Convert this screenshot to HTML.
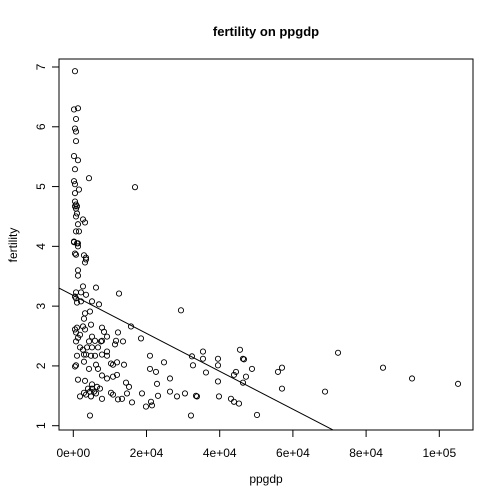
<!DOCTYPE html>
<html><head><meta charset="utf-8"><style>
html,body{margin:0;padding:0;background:#fff;}
svg{display:block;font-family:"Liberation Sans",Arial,sans-serif;}
</style></head><body>
<svg id="chart" width="504" height="504" viewBox="0 0 504 504">
<defs><clipPath id="pc"><rect x="59" y="59" width="414" height="371"/></clipPath></defs>
<rect width="504" height="504" fill="#fff"/>
<text x="266" y="36" text-anchor="middle" font-size="13" font-weight="bold">fertility on ppgdp</text>
<text x="266" y="483" text-anchor="middle" font-size="12">ppgdp</text>
<text x="17" y="245" text-anchor="middle" font-size="12" transform="rotate(-90 17 245)">fertility</text>
<rect x="59" y="59" width="414" height="371" fill="none" stroke="#000" stroke-width="1"/>
<g id="xaxis"></g>
<g id="yaxis"></g>
<g id="points"></g>
<g id="fit" clip-path="url(#pc)"></g>
</svg>
<script>
const xTicks = [0, 20000, 40000, 60000, 80000, 100000];
const xTickLabels = ["0e+00", "2e+04", "4e+04", "6e+04", "8e+04", "1e+05"];
const yTicks = [1, 2, 3, 4, 5, 6, 7];
const yTickLabels = ["1", "2", "3", "4", "5", "6", "7"];
const ppgdp = [460,190,1280,740,460,740,740,190,1280,460,4290,190,460,16860,1550,460,460,740,460,1010,740,1010,740,2650,3200,1280,740,1550,190,1010,
190,1280,1280,460,740,2920,3470,3470,3200,1280,1280,2650,6200,12490,740,2100,3470,460,740,2100,1010,5110,7020,29420,3200,4560,2920,15760,460,1010,740,1830,2650,3200,4840,1280,7840,8390,12210,9210,18500,5110,4290,5930,7840,7570,11670,13580,11390,740,1830,2650,3740,5110,6750,1010,2920,3470,4840,5930,7840,9210,9210,20950,740,460,2920,4290,6200,6750,10300,10850,11940,13850,20950,22590,24780,1280,3200,5110,7840,9210,10850,11940,14400,15220,22870,26420,4020,4560,5110,5660,6470,7290,6200,4840,2920,3470,1830,10300,10850,12210,13300,14670,16040,18770,19860,21230,21500,23140,26420,28330,30510,33520,4560,32150,7840,
32420,35430,35430,32700,36250,39530,39530,39530,45540,46360,46630,44450,43900,47180,46360,48820,55920,57020,57020,72330,84620,92550,105120,68780,33790,39800,43080,43900,45270,50190];
const fertility = [6.93,6.29,6.31,6.13,5.97,5.92,5.76,5.51,5.44,5.29,5.14,5.09,5.04,4.99,4.95,4.89,4.75,4.70,4.67,4.67,4.63,4.55,4.50,4.45,4.40,4.37,4.25,4.25,4.08,4.05,
4.07,4.05,4.00,3.88,3.86,3.85,3.81,3.78,3.73,3.60,3.51,3.33,3.31,3.21,3.23,3.23,3.19,3.16,3.13,3.08,3.06,3.08,3.03,2.93,2.88,2.91,2.79,2.66,2.61,2.64,2.56,2.52,2.66,2.61,2.69,2.47,2.64,2.57,2.56,2.49,2.46,2.49,2.41,2.42,2.42,2.41,2.42,2.41,2.36,2.41,2.31,2.27,2.31,2.31,2.31,2.17,2.19,2.19,2.17,2.17,2.19,2.17,2.24,2.17,2.01,1.99,2.07,1.95,2.02,1.95,2.04,2.02,2.06,2.02,1.95,1.90,2.06,1.77,1.75,1.69,1.84,1.79,1.82,1.85,1.72,1.65,1.70,1.79,1.62,1.57,1.62,1.57,1.65,1.62,1.54,1.49,1.55,1.52,1.49,1.55,1.52,1.44,1.45,1.54,1.39,1.54,1.32,1.40,1.34,1.50,1.57,1.49,1.54,1.50,1.17,1.17,1.45,
2.16,2.24,2.12,2.01,1.89,2.12,2.01,1.74,2.27,2.12,2.11,1.90,1.85,1.82,1.72,1.95,1.90,1.97,1.62,2.22,1.97,1.79,1.70,1.57,1.49,1.49,1.45,1.40,1.37,1.18];
const fitIntercept = [3.178];
const fitSlope = [-0.0000317];

const NS = "http://www.w3.org/2000/svg";
function sx(v){ return 73.3 + v * (439.3 - 73.3) / 100000; }
function sy(v){ return 425.7 - (v - 1) * (425.7 - 67) / 6; }
function mk(tag, attrs, parent){ const e = document.createElementNS(NS, tag); for (const k in attrs) e.setAttribute(k, attrs[k]); parent.appendChild(e); return e; }

const xa = document.getElementById('xaxis');
xTicks.forEach((t, i) => {
  const l = mk('line', {x1: sx(t), x2: sx(t), y1: 430, y2: 437, stroke: '#000'}, xa);
  
  
  const tx = mk('text', {x: sx(t), y: 457, 'text-anchor': 'middle', 'font-size': 12}, xa);
  tx.textContent = xTickLabels[i];
  
  
});
const ya = document.getElementById('yaxis');
yTicks.forEach((t, i) => {
  const l = mk('line', {x1: 52, x2: 59, y1: sy(t), y2: sy(t), stroke: '#000'}, ya);
  
  
  const tx = mk('text', {x: 42, y: sy(t), 'text-anchor': 'middle', 'font-size': 12, transform: 'rotate(-90 42 ' + sy(t) + ')', 'dominant-baseline': 'middle'}, ya);
  tx.textContent = yTickLabels[i];
  
  
});
const pg = document.getElementById('points');
ppgdp.forEach((v, i) => {
  const c = mk('circle', {cx: sx(v), cy: sy(fertility[i]), r: 2.6, fill: 'none', stroke: '#000', 'stroke-width': 0.9}, pg);
  
  
});
const fg = document.getElementById('fit');
const x0 = -10000, x1 = 120000;
const ln = mk('line', {x1: sx(x0), y1: sy(fitIntercept[0] + fitSlope[0] * x0), x2: sx(x1), y2: sy(fitIntercept[0] + fitSlope[0] * x1), stroke: '#000', 'stroke-width': 1}, fg);


</script>
</body></html>
